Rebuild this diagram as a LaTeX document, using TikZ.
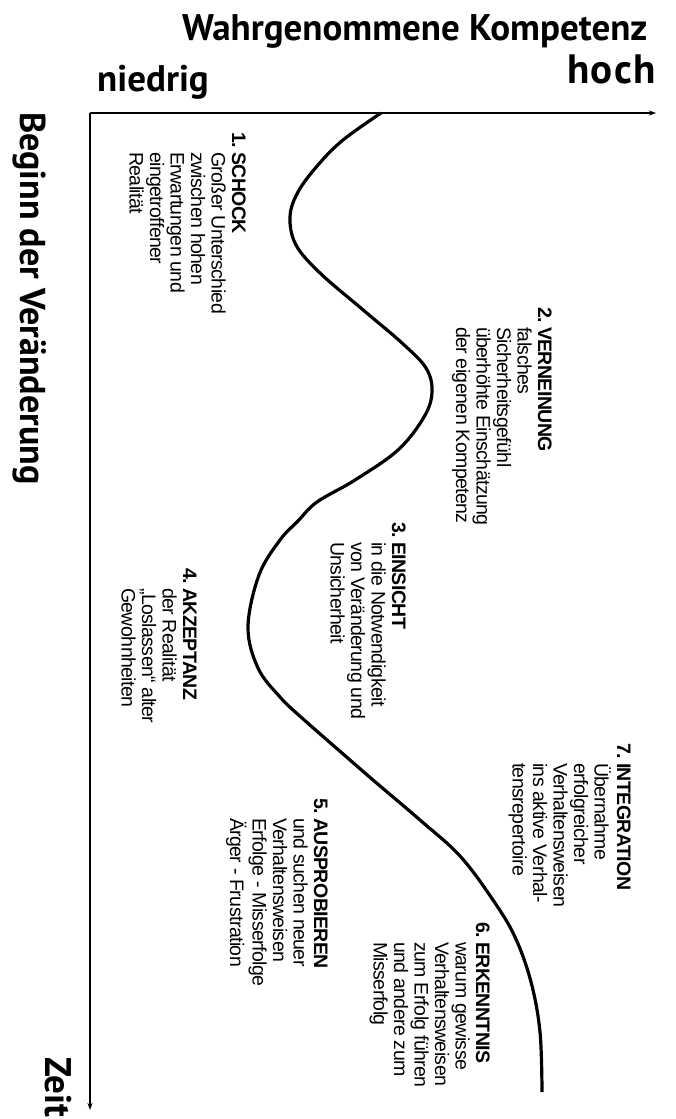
\documentclass[tikz,border=0pt]{standalone}
\usepackage{fontspec}
\setmainfont{Liberation Sans}
\newfontfamily\stagefont{Liberation Sans}[LetterSpace=-3]
\newfontfamily\axisfont{PT Sans}
\usetikzlibrary{arrows.meta}

% numbered phase: bold number, bold title, body lines aligned under the title
\newcommand{\phasetext}[3]{%
  \begin{tabular}[t]{@{}l@{}l@{}}\textbf{#1.\ }\mbox{}&\textbf{#2}\\#3\end{tabular}}

\begin{document}
\begin{tikzpicture}[x=1pt,y=-1pt,
  axisline/.style={line width=1.4pt,-{Stealth[length=7pt,width=5pt]}},
  curveline/.style={line width=3.2pt,line cap=butt},
  biglabel/.style={font=\axisfont\bfseries\fontsize{37}{40}\selectfont,inner sep=0pt},
  stage/.style={font=\stagefont\fontsize{19.5}{20.5}\selectfont,inner sep=0pt,rotate=-90,anchor=base west}]
\useasboundingbox (0,0) rectangle (675,1119);

% axes
\coordinate (O) at (90,113);
\coordinate (xend) at (656,113);
\coordinate (yend) at (90,1110);
\draw[axisline] (O) -- (xend);
\draw[axisline] (O) -- (yend);

% axis labels
\node[biglabel,anchor=base west] (title) at (182,40) {Wahrgenommene Kompetenz};
\node[biglabel,anchor=base west] (low) at (97,91) {niedrig};
\node[biglabel,anchor=base west] (high) at (567,83) {\fontsize{41}{44}\selectfont\addfontfeatures{LetterSpace=3}hoch};
\node[biglabel,rotate=-90,anchor=base west,font=\axisfont\bfseries\fontsize{36}{40}\selectfont] (start) at (20,112) {Beginn der Veränderung};
\node[biglabel,rotate=-90,anchor=base west] (time) at (45,1057) {Zeit};

% competence curve
\draw[curveline] plot[smooth,tension=0.6] coordinates {
  (381,113) (343,140) (318,165) (298,192) (290,217) (296,245) (320,273)
  (362,309) (402,343) (426,368) (432,392) (424,417) (398,450) (355,480)
  (317,502) (298,521) (280,540) (259,575) (248,627) (258,668) (280,697)
  (302,718) (350,760) (373,780) (420,820) (460,856) (493,900) (515,937)
  (531,982) (540,1032) (542,1092)};

% phases
\node[stage] (s1) at (232,132) {\phasetext{1}{SCHOCK}{&Großer Unterschied\\&zwischen hohen\\&Erwartungen und\\&eingetroffener\\&Realität}};
\node[stage] (s2) at (538,307) {\phasetext{2}{VERNEINUNG}{&falsches\\&Sicherheitsgefühl\\&überhöhte Einschätzung\\&der eigenen Kompetenz}};
\node[stage] (s3) at (392,522) {\phasetext{3}{EINSICHT}{&in die Notwendigkeit\\&von Veränderung und\\&Unsicherheit}};
\node[stage] (s4) at (183,568) {\phasetext{4}{AKZEPTANZ}{&der Realität\\&„Loslassen“ alter\\&Gewohnheiten}};
\node[stage] (s5) at (314,798) {\phasetext{5}{AUSPROBIEREN}{&und suchen neuer\\&Verhaltensweisen\\&Erfolge - Misserfolge\\&Ärger - Frustration}};
\node[stage] (s6) at (476,922) {\phasetext{6}{ERKENNTNIS}{&warum gewisse\\&Verhaltensweisen\\&zum Erfolg führen\\&und andere zum\\&Misserfolg}};
\node[stage] (s7) at (617,743) {\phasetext{7}{INTEGRATION}{&Übernahme\\&erfolgreicher\\&Verhaltensweisen\\&ins aktive Verhal-\\&tensrepertoire}};
\end{tikzpicture}
\end{document}
